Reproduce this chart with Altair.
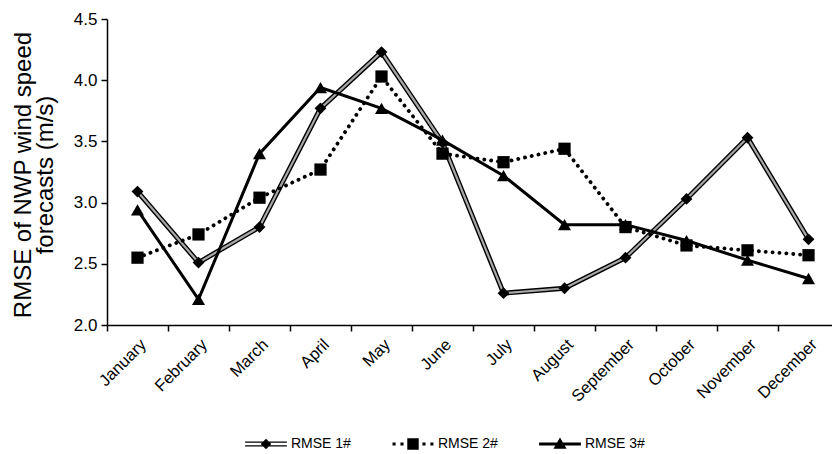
import json
import altair as alt
import pandas as pd

# Monthly RMSE of NWP wind speed forecasts for three forecast sets
months = ["January", "February", "March", "April", "May", "June", "July",
          "August", "September", "October", "November", "December"]
rmse_1 = [3.09, 2.51, 2.80, 3.77, 4.23, 3.49, 2.26, 2.30, 2.55, 3.03, 3.53, 2.70]
rmse_2 = [2.55, 2.74, 3.04, 3.27, 4.03, 3.40, 3.33, 3.44, 2.80, 2.65, 2.61, 2.57]
rmse_3 = [2.94, 2.21, 3.40, 3.94, 3.77, 3.51, 3.22, 2.82, 2.82, 2.69, 2.53, 2.38]
series_names = ["RMSE 1#", "RMSE 2#", "RMSE 3#"]
y_ticks = [2.0, 2.5, 3.0, 3.5, 4.0, 4.5]
y_title_lines = ["RMSE of NWP wind speed", "forecasts (m/s)"]

rows = []
for name, vals in zip(series_names, [rmse_1, rmse_2, rmse_3]):
    for i, (m, v) in enumerate(zip(months, vals)):
        rows.append({"idx": i, "month": m, "value": v, "series": name})
df = pd.DataFrame(rows)

FONT = "Liberation Sans"
PLOT_W, PLOT_H = 725, 306
X_DOMAIN = [-0.5, 11.385]
step_px = PLOT_W / (X_DOMAIN[1] - X_DOMAIN[0])

# ticks sit on the category boundaries, labels are shifted to the centres
boundary_ticks = [i - 0.5 for i in range(len(months))]
label_expr = f"{json.dumps(months)}[round(datum.value + 0.5)]"

x_enc = alt.X(
    "idx:Q",
    scale=alt.Scale(domain=X_DOMAIN, nice=False, zero=False),
    axis=alt.Axis(
        values=boundary_ticks, labelExpr=label_expr, labelOffset=step_px / 2,
        labelAngle=-45, labelFlush=False, labelOverlap=False, labelBound=False,
        labelFont=FONT, labelFontSize=16.5, labelColor="black", labelPadding=5,
        tickSize=6, tickColor="black", tickWidth=1.5,
        domainColor="black", domainWidth=1.5, grid=False, title=None,
    ),
)
y_enc = alt.Y(
    "value:Q",
    scale=alt.Scale(domain=[2.0, 4.5], nice=False, zero=False),
    axis=alt.Axis(
        values=y_ticks, format=".1f", labelFont=FONT, labelFontSize=17,
        labelColor="black", labelPadding=4,
        tickSize=6, tickColor="black", tickWidth=1.5,
        domainColor="black", domainWidth=1.5, grid=False, title=None,
    ),
)

base = alt.Chart(df).encode(x=x_enc, y=y_enc, order="idx:Q")


def only(name):
    return base.transform_filter(alt.datum.series == name)


# RMSE 1#: double line (black casing with grey core) and diamonds
s1_case = only("RMSE 1#").mark_line(color="black", strokeWidth=5)
s1_core = only("RMSE 1#").mark_line(color="#a8a8a8", strokeWidth=2.2)
s1_pts = only("RMSE 1#").mark_point(shape="diamond", filled=True, color="black",
                                    size=140, opacity=1)

# RMSE 2#: dotted line and squares
s2_line = only("RMSE 2#").mark_line(color="black", strokeWidth=3.8,
                                    strokeDash=[0.1, 6.8], strokeCap="round")
s2_pts = only("RMSE 2#").mark_point(shape="square", filled=True, color="black",
                                    size=150, opacity=1)

# RMSE 3#: solid thick line and triangles
s3_line = only("RMSE 3#").mark_line(color="black", strokeWidth=3)
s3_pts = only("RMSE 3#").mark_point(shape="triangle-up", filled=True, color="black",
                                    size=170, opacity=1)

# Legend glyphs (unit coordinates, 1 unit = 22 px at symbolSize 1936)
glyph_1 = ("M-0.95,-0.115H0.95V-0.06H-0.95Z"
           "M-0.95,0.06H0.95V0.115H-0.95Z"
           "M0,-0.24L0.24,0L0,0.24L-0.24,0Z")
glyph_2 = ("M-0.93,-0.07H-0.79V0.07H-0.93Z"
           "M-0.57,-0.07H-0.43V0.07H-0.57Z"
           "M0.43,-0.07H0.57V0.07H0.43Z"
           "M0.79,-0.07H0.93V0.07H0.79Z"
           "M-0.26,-0.26H0.26V0.26H-0.26Z")
glyph_3 = ("M-0.95,-0.07H0.95V0.07H-0.95Z"
           "M0,-0.3L0.3,0.22L-0.3,0.22Z")

legend_layer = base.transform_filter("false").mark_point(
    filled=True, color="black", opacity=1
).encode(
    shape=alt.Shape(
        "series:N",
        scale=alt.Scale(domain=series_names, range=[glyph_1, glyph_2, glyph_3]),
        legend=alt.Legend(
            title=None, orient="none", direction="horizontal",
            legendX=137, legendY=403, symbolSize=1936, symbolStrokeWidth=0,
            symbolFillColor="black", symbolOpacity=1,
            labelFont=FONT, labelFontSize=14, labelColor="black",
            labelOffset=3, columnPadding=40, padding=0,
        ),
    )
)

# Two-line y-axis title, each line centred on the axis
title_layers = [
    alt.Chart(alt.Data(values=[{}])).mark_text(
        text=line, angle=270, align="center", baseline="alphabetic",
        font=FONT, fontSize=24, color="black",
    ).encode(x=alt.value(x_px), y=alt.value(PLOT_H / 2 + 3))
    for line, x_px in zip(y_title_lines, [-76, -54])
]

chart = alt.layer(
    s1_case, s1_core, s2_line, s3_line, s1_pts, s2_pts, s3_pts, legend_layer,
    *title_layers,
).properties(
    width=PLOT_W, height=PLOT_H,
    padding={"left": 107, "top": 19, "right": 0, "bottom": 129},
    autosize=alt.AutoSizeParams(type="none"),
    background="white",
).configure_view(stroke=None)

chart.save("out.html", embed_options={"renderer": "svg", "actions": False})
